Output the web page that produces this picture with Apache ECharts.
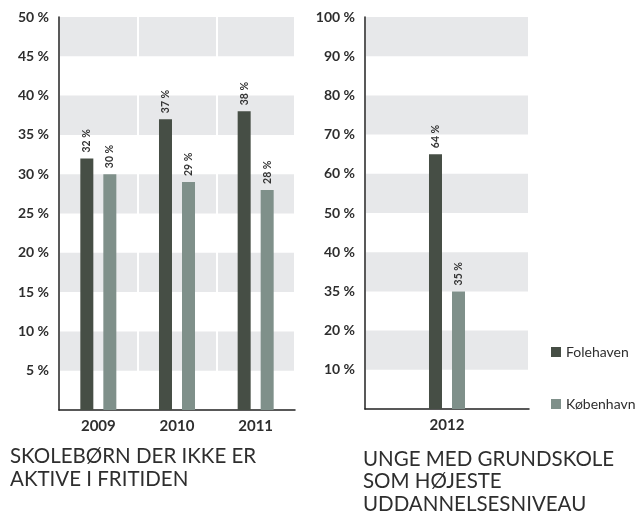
<!DOCTYPE html>
<html>
<head>
<meta charset="utf-8">
<script src="https://cdn.jsdelivr.net/npm/echarts@6/dist/echarts.min.js"></script>
<style>
html,body{margin:0;padding:0;background:#fff;}
#c{width:642px;height:517px;}
</style>
</head>
<body>
<div id="c"></div>
<script>
// ---- data ----
var yearsA = ['2009', '2010', '2011'];
var folehavenA = [32, 37, 38];
var koebenhavnA = [30, 29, 28];
var yearsB = ['2012'];
var folehavenB = [65];
var koebenhavnB = [30];
var folehavenBLabels = ['64 %'];
var koebenhavnBLabels = ['35 %'];
var ticksA = ['', '5 %', '10 %', '15 %', '20 %', '25 %', '30 %', '35 %', '40 %', '45 %', '50 %'];
var ticksB = ['', '10 %', '20 %', '35 %', '40 %', '50 %', '60 %', '70 %', '80 %', '90 %', '100 %'];
var titleA = 'SKOLEBØRN DER IKKE ER\nAKTIVE I FRITIDEN';
var titleB = 'UNGE MED GRUNDSKOLE\nSOM HØJESTE\nUDDANNELSESNIVEAU';
var seriesNames = ['Folehaven', 'København'];

var DARK = '#464e45', LIGHT = '#7f908a', BAND = '#e7e8ea', INK = '#2e2e2e';
var FONT = 'Lato, "Open Sans", sans-serif';

function yAxis(idx, max, interval, ticks) {
  return {
    type: 'value', gridIndex: idx, min: 0, max: max, interval: interval,
    axisLine: {show: true, lineStyle: {color: '#222', width: 1.5}},
    axisTick: {show: false},
    splitLine: {show: false},
    splitArea: {show: true, areaStyle: {color: ['rgba(255,255,255,0)', BAND]}},
    axisLabel: {
      margin: 10, color: INK, fontFamily: FONT, fontSize: 14, fontWeight: 'bold',
      formatter: function (v) { return ticks[Math.round(v / interval)] || ''; }
    }
  };
}
function xAxis(idx, cats) {
  return {
    type: 'category', gridIndex: idx, data: cats,
    axisLine: {show: true, lineStyle: {color: '#222', width: 1.5}},
    axisTick: {show: false},
    splitLine: {show: true, lineStyle: {color: '#ffffff', width: 2}},
    axisLabel: {margin: 9, color: INK, fontFamily: FONT, fontSize: 15, fontWeight: 'bold'}
  };
}
function barLabel(labels) {
  return {
    show: true, position: 'top', rotate: 90, align: 'left', verticalAlign: 'middle',
    distance: 6, color: '#333', fontFamily: FONT, fontSize: 10.5, fontWeight: 'bold',
    formatter: function (p) { return labels ? labels[p.dataIndex] : p.value + ' %'; }
  };
}

var chart = echarts.init(document.getElementById('c'));
chart.setOption({
  backgroundColor: '#ffffff',
  animation: false,
  color: [DARK, LIGHT],
  title: [
    {text: titleA, left: 5, top: 440, textStyle: {fontFamily: FONT, fontSize: 20.5, fontWeight: 'normal', color: INK, lineHeight: 23}},
    {text: titleB, left: 358, top: 443, textStyle: {fontFamily: FONT, fontSize: 20.5, fontWeight: 'normal', color: INK, lineHeight: 22.5}}
  ],
  legend: {
    data: seriesNames, orient: 'vertical', left: 546, top: 340,
    itemWidth: 10, itemHeight: 10, itemGap: 38, icon: 'rect',
    textStyle: {fontFamily: FONT, fontSize: 14, color: INK, fontWeight: 'normal'}
  },
  grid: [
    {left: 59, right: 347, top: 17, bottom: 107},
    {left: 365, right: 113, top: 17, bottom: 108}
  ],
  xAxis: [xAxis(0, yearsA), xAxis(1, yearsB)],
  yAxis: [yAxis(0, 50, 5, ticksA), yAxis(1, 100, 10, ticksB)],
  series: [
    {name: seriesNames[0], type: 'bar', xAxisIndex: 0, yAxisIndex: 0, data: folehavenA, barWidth: 13, barGap: '77%', label: barLabel(null)},
    {name: seriesNames[1], type: 'bar', xAxisIndex: 0, yAxisIndex: 0, data: koebenhavnA, barWidth: 13, barGap: '77%', label: barLabel(null)},
    {name: seriesNames[0], type: 'bar', xAxisIndex: 1, yAxisIndex: 1, data: folehavenB, barWidth: 13, barGap: '77%', label: barLabel(folehavenBLabels)},
    {name: seriesNames[1], type: 'bar', xAxisIndex: 1, yAxisIndex: 1, data: koebenhavnB, barWidth: 13, barGap: '77%', label: barLabel(koebenhavnBLabels)}
  ]
});
</script>
</body>
</html>
